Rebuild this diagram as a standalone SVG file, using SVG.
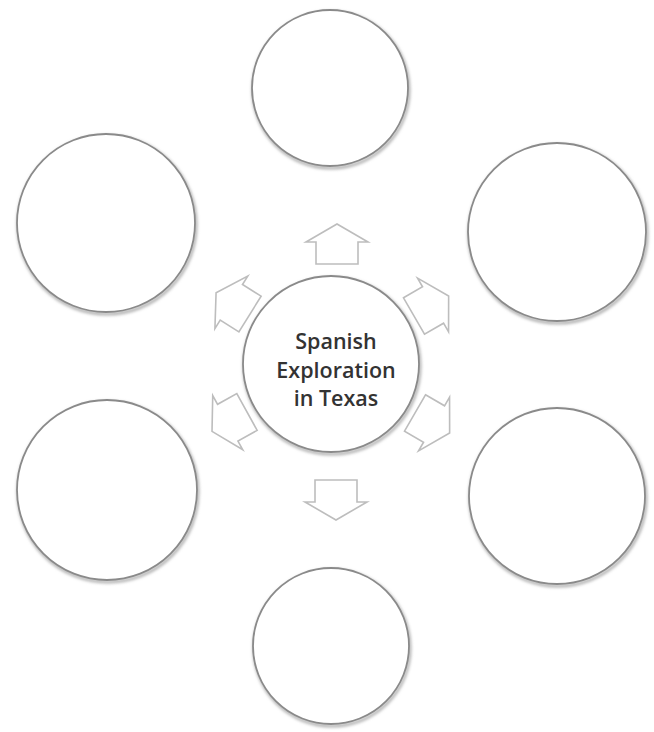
<svg xmlns="http://www.w3.org/2000/svg" width="654" height="732" viewBox="0 0 654 732">
<defs>
<style>
.node circle.c{fill:#ffffff;stroke:#8a8a8a;stroke-width:1.8}
.node circle.s{fill:none;stroke:#b0b0b0;stroke-width:3;filter:url(#blur)}
.arr{fill:none;stroke:#bdbdbd;stroke-width:1.6;stroke-linejoin:miter}
.lbl{font-family:"Open Sans","Liberation Sans",sans-serif;font-weight:600;font-size:21.5px;fill:#333333;text-anchor:middle}
</style>
<filter id="blur" x="-10%" y="-10%" width="120%" height="120%"><feGaussianBlur stdDeviation="1.5"/></filter>
<path id="ar" d="M0,-21 H22 V-31 L40,0 L22,31 V21 H0 Z"/>
</defs>
<rect width="654" height="732" fill="#ffffff"/>
<g id="connectors">
<use href="#ar" class="arr" transform="translate(337,264) rotate(-90)"/>
<use href="#ar" class="arr" transform="translate(336,480) rotate(90)"/>
<use href="#ar" class="arr" transform="translate(250,314) rotate(-148)"/>
<use href="#ar" class="arr" transform="translate(414,316) rotate(-30)"/>
<use href="#ar" class="arr" transform="translate(247,412) rotate(151)"/>
<use href="#ar" class="arr" transform="translate(415,413) rotate(30)"/>
</g>
<g id="n-top" class="node"><circle class="s" cx="331" cy="90" r="78"/><circle class="c" cx="330" cy="88" r="78"/></g>
<g id="n-topleft" class="node"><circle class="s" cx="107" cy="225" r="89"/><circle class="c" cx="106" cy="223" r="89"/></g>
<g id="n-topright" class="node"><circle class="s" cx="558" cy="234" r="89"/><circle class="c" cx="557" cy="232" r="89"/></g>
<g id="n-center" class="node"><circle class="s" cx="332" cy="366" r="88"/><circle class="c" cx="331" cy="364" r="88"/>
<text class="lbl" x="336" y="349">Spanish</text>
<text class="lbl" x="336" y="378">Exploration</text>
<text class="lbl" x="336" y="406">in Texas</text></g>
<g id="n-bottomleft" class="node"><circle class="s" cx="108" cy="492" r="90"/><circle class="c" cx="107" cy="490" r="90"/></g>
<g id="n-bottomright" class="node"><circle class="s" cx="558" cy="498" r="88"/><circle class="c" cx="557" cy="496" r="88"/></g>
<g id="n-bottom" class="node"><circle class="s" cx="332" cy="648" r="78"/><circle class="c" cx="331" cy="646" r="78"/></g>
</svg>
